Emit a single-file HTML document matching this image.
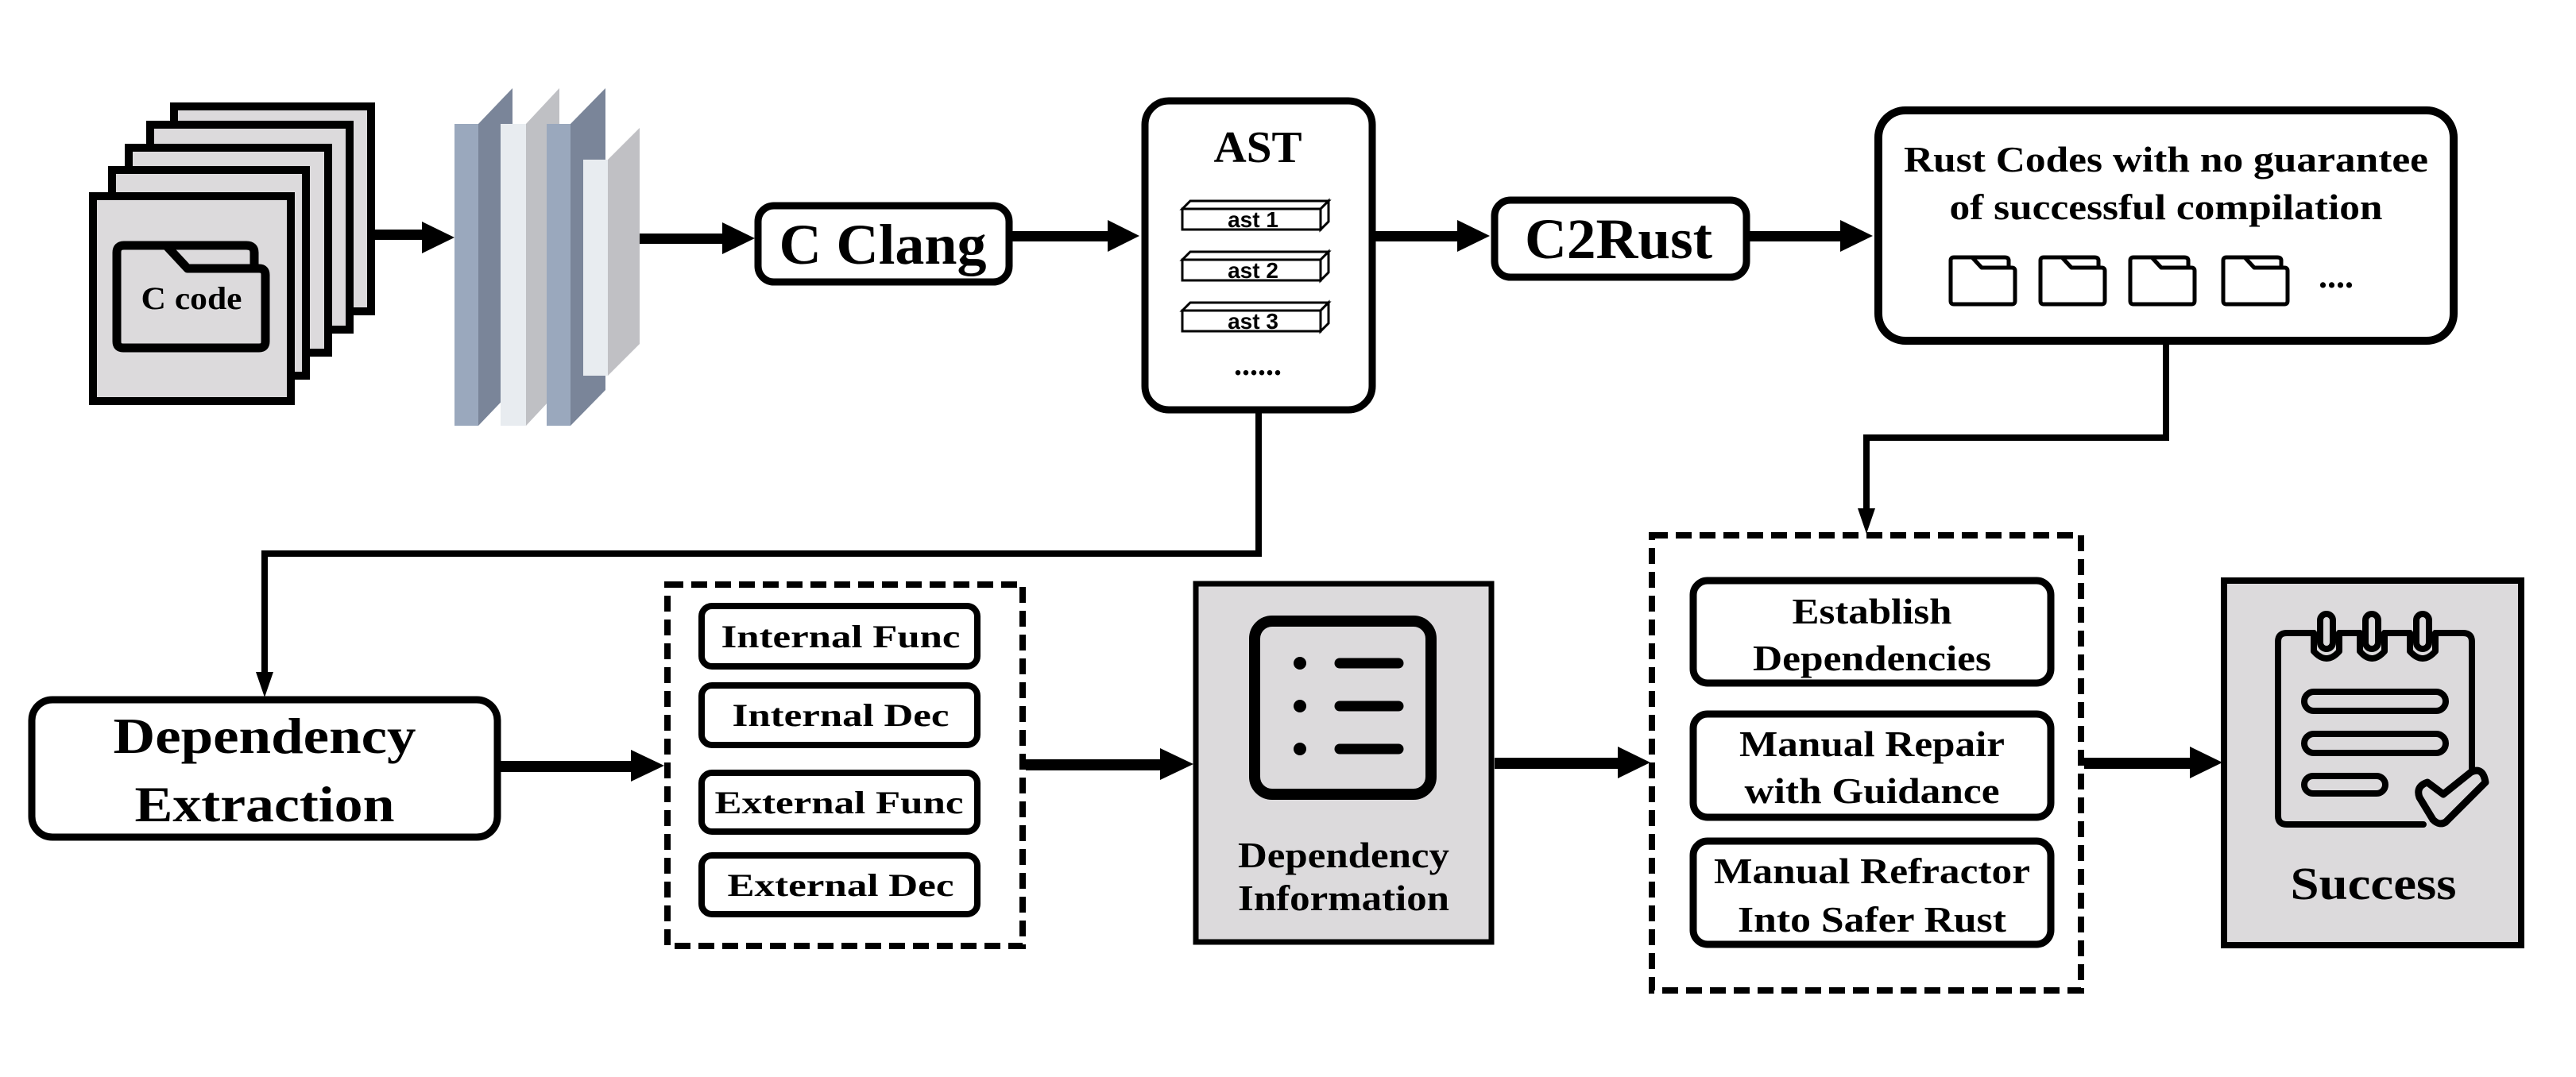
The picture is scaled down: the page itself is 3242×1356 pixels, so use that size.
<!DOCTYPE html>
<html><head><meta charset="utf-8"><style>
html,body{margin:0;padding:0;background:#fff}
svg{display:block}
text{font-family:"Liberation Serif",serif;font-weight:bold;fill:#000}
</style></head><body>
<svg width="3242" height="1356" viewBox="0 0 3242 1356" xmlns="http://www.w3.org/2000/svg">
<defs>
<path id="fold" d="M3,5 Q3,1 7,1 H30 L42,14 H80 Q84,14 84,18 V56 Q84,60 80,60 H7 Q3,60 3,56 Z M30,1 H71 Q76,1 76,5 V14"/>
</defs>
<rect width="3242" height="1356" fill="#fff"/>

<!-- C code stack -->
<g fill="#dcdadc" stroke="#000" stroke-width="10">
<rect x="219" y="134" width="248" height="258"/>
<rect x="189" y="157" width="251" height="258"/>
<rect x="162" y="186" width="251" height="258"/>
<rect x="141" y="214" width="244" height="259"/>
<rect x="117" y="247" width="249" height="258"/>
</g>
<g fill="none" stroke="#000" stroke-width="11" stroke-linejoin="round">
<path d="M147,318 Q147,309 156,309 H209 L236,338 H326 Q334,338 334,346 V430 Q334,438 326,438 H155 Q147,438 147,430 Z"/>
<path d="M209,309 H310 Q320,309 320,318 V338"/>
</g>
<text x="241" y="389" font-size="40" text-anchor="middle" textLength="127" lengthAdjust="spacingAndGlyphs">C code</text>

<!-- arrows top row -->
<g fill="#000">
<rect x="472" y="289" width="62" height="13"/><polygon points="531,279 572,299 531,319"/>
<rect x="805" y="294" width="108" height="13"/><polygon points="909,280 950,300 909,320"/>
<rect x="1274" y="291" width="124" height="13"/><polygon points="1394,277 1434,297 1394,317"/>
<rect x="1731" y="291" width="106" height="13"/><polygon points="1834,277 1875,297 1834,317"/>
<rect x="2202" y="291" width="118" height="13"/><polygon points="2316,277 2357,297 2316,317"/>
</g>

<!-- slabs -->
<rect x="572" y="156" width="30" height="380" fill="#9aa8bd"/>
<polygon points="602,156 645,111 645,491 602,536" fill="#7a8599"/>
<rect x="630" y="156" width="32" height="380" fill="#e8ecf0"/>
<polygon points="662,156 704,111 704,491 662,536" fill="#bfc0c4"/>
<rect x="688" y="156" width="30" height="380" fill="#9aa8bd"/>
<polygon points="718,156 762,111 762,491 718,536" fill="#7a8599"/>
<rect x="734" y="201" width="31" height="272" fill="#e8ecf0"/>
<polygon points="765,201 805,161 805,433 765,473" fill="#c0c0c4"/>

<!-- C Clang -->
<rect x="954" y="259" width="316" height="96" rx="20" fill="#fff" stroke="#000" stroke-width="9"/>
<text x="1111" y="332" font-size="72" text-anchor="middle" textLength="261" lengthAdjust="spacingAndGlyphs">C Clang</text>

<!-- AST -->
<rect x="1441" y="127" width="286" height="389" rx="30" fill="#fff" stroke="#000" stroke-width="9"/>
<text x="1583" y="204" font-size="56" text-anchor="middle" textLength="111" lengthAdjust="spacingAndGlyphs">AST</text>
<g fill="#fff" stroke="#000" stroke-width="3">
<polygon points="1488,263 1498,253 1672,253 1662,263"/><polygon points="1662,263 1672,253 1672,279 1662,289"/><rect x="1488" y="263" width="174" height="26"/>
<polygon points="1488,327 1498,317 1672,317 1662,327"/><polygon points="1662,327 1672,317 1672,343 1662,353"/><rect x="1488" y="327" width="174" height="26"/>
<polygon points="1488,391 1498,381 1672,381 1662,391"/><polygon points="1662,391 1672,381 1672,407 1662,417"/><rect x="1488" y="391" width="174" height="26"/>
</g>
<g font-size="28" text-anchor="middle">
<text x="1577" y="286" style="font-family:'Liberation Sans',sans-serif">ast 1</text>
<text x="1577" y="350" style="font-family:'Liberation Sans',sans-serif">ast 2</text>
<text x="1577" y="414" style="font-family:'Liberation Sans',sans-serif">ast 3</text>
</g>
<text x="1583" y="472" font-size="40" text-anchor="middle">......</text>

<!-- C2Rust -->
<rect x="1881" y="252" width="317" height="97" rx="20" fill="#fff" stroke="#000" stroke-width="9"/>
<text x="2037" y="325" font-size="72" text-anchor="middle" textLength="236" lengthAdjust="spacingAndGlyphs">C2Rust</text>

<!-- Rust codes -->
<rect x="2364" y="139" width="724" height="290" rx="34" fill="#fff" stroke="#000" stroke-width="10"/>
<text x="2726" y="216" font-size="45" text-anchor="middle" textLength="660" lengthAdjust="spacingAndGlyphs">Rust Codes with no guarantee</text>
<text x="2726" y="276" font-size="45" text-anchor="middle" textLength="545" lengthAdjust="spacingAndGlyphs">of successful compilation</text>
<g fill="#fff" stroke="#000" stroke-width="5" stroke-linejoin="round">
<use href="#fold" x="2452" y="323"/>
<use href="#fold" x="2565" y="323"/>
<use href="#fold" x="2678" y="323"/>
<use href="#fold" x="2795" y="323"/>
</g>
<text x="2940" y="362" font-size="44" text-anchor="middle">....</text>

<!-- connectors -->
<g fill="none" stroke="#000" stroke-width="8">
<path d="M2726,433 V551 H2349 V650"/>
<path d="M1584,520 V697 H333 V855"/>
</g>
<polygon points="2338,640 2360,640 2349,672" fill="#000"/>
<polygon points="322,846 344,846 333,878" fill="#000"/>

<!-- Dependency Extraction -->
<rect x="40" y="881" width="586" height="173" rx="26" fill="#fff" stroke="#000" stroke-width="9"/>
<text x="333" y="948" font-size="64" text-anchor="middle" textLength="381" lengthAdjust="spacingAndGlyphs">Dependency</text>
<text x="333" y="1034" font-size="64" text-anchor="middle" textLength="327" lengthAdjust="spacingAndGlyphs">Extraction</text>

<g fill="#000">
<rect x="626" y="958" width="172" height="14"/><polygon points="794,944 836,964 794,984"/>
<rect x="1291" y="956" width="172" height="14"/><polygon points="1460,942 1502,962 1460,982"/>
<rect x="1881" y="954" width="158" height="14"/><polygon points="2036,940 2077,960 2036,980"/>
<rect x="2623" y="954" width="136" height="14"/><polygon points="2756,940 2797,960 2756,980"/>
</g>

<!-- dashed box 1 -->
<rect x="840" y="736" width="447" height="455" fill="none" stroke="#000" stroke-width="8" stroke-dasharray="20,10"/>
<g fill="#fff" stroke="#000" stroke-width="8">
<rect x="883" y="763" width="347" height="76" rx="13"/>
<rect x="883" y="863" width="347" height="75" rx="13"/>
<rect x="883" y="973" width="347" height="74" rx="13"/>
<rect x="883" y="1077" width="347" height="74" rx="13"/>
</g>
<g font-size="40" text-anchor="middle">
<text x="1058" y="815" textLength="301" lengthAdjust="spacingAndGlyphs">Internal Func</text>
<text x="1058" y="914" textLength="273" lengthAdjust="spacingAndGlyphs">Internal Dec</text>
<text x="1056" y="1024" textLength="313" lengthAdjust="spacingAndGlyphs">External Func</text>
<text x="1058" y="1128" textLength="285" lengthAdjust="spacingAndGlyphs">External Dec</text>
</g>

<!-- Dependency Information -->
<rect x="1505" y="735" width="372" height="451" fill="#dcdadc" stroke="#000" stroke-width="7"/>
<rect x="1579" y="782" width="222" height="218" rx="22" fill="none" stroke="#000" stroke-width="14"/>
<g fill="#000">
<circle cx="1636" cy="835" r="8"/><circle cx="1636" cy="889" r="8"/><circle cx="1636" cy="943" r="8"/>
</g>
<g stroke="#000" stroke-width="13" stroke-linecap="round">
<line x1="1686" y1="835" x2="1760" y2="835"/><line x1="1686" y1="889" x2="1760" y2="889"/><line x1="1686" y1="943" x2="1760" y2="943"/>
</g>
<text x="1691" y="1092" font-size="46" text-anchor="middle" textLength="266" lengthAdjust="spacingAndGlyphs">Dependency</text>
<text x="1691" y="1146" font-size="46" text-anchor="middle" textLength="266" lengthAdjust="spacingAndGlyphs">Information</text>

<!-- dashed box 2 -->
<rect x="2079" y="674" width="540" height="573" fill="none" stroke="#000" stroke-width="8" stroke-dasharray="20,10"/>
<g fill="#fff" stroke="#000" stroke-width="9">
<rect x="2131" y="731" width="450" height="129" rx="18"/>
<rect x="2131" y="899" width="450" height="130" rx="18"/>
<rect x="2131" y="1059" width="450" height="130" rx="18"/>
</g>
<g font-size="46" text-anchor="middle">
<text x="2356" y="785" textLength="201" lengthAdjust="spacingAndGlyphs">Establish</text>
<text x="2356" y="844" textLength="300" lengthAdjust="spacingAndGlyphs">Dependencies</text>
<text x="2356" y="952" textLength="334" lengthAdjust="spacingAndGlyphs">Manual Repair</text>
<text x="2356" y="1011" textLength="321" lengthAdjust="spacingAndGlyphs">with Guidance</text>
<text x="2356" y="1112" textLength="398" lengthAdjust="spacingAndGlyphs">Manual Refractor</text>
<text x="2356" y="1173" textLength="338" lengthAdjust="spacingAndGlyphs">Into Safer Rust</text>
</g>

<!-- Success -->
<rect x="2799" y="731" width="374" height="459" fill="#dcdadc" stroke="#000" stroke-width="8"/>
<g fill="none" stroke="#000" stroke-width="8" stroke-linejoin="round" stroke-linecap="round">
<path d="M3050,1038 H2878 Q2867,1038 2867,1027 V808 Q2867,797 2878,797 H2912 M2944,797 H2970 M3001,797 H3033 M3065,797 H3100 Q3111,797 3111,808 V970"/>
<path d="M2912,797 V820 Q2928,838 2944,820 V797 M3001,797 V820 Q2985,838 2970,820 V797 M3065,797 V820 Q3049,838 3033,820 V797"/>
<rect x="2920" y="773" width="16" height="44" rx="8"/>
<rect x="2977" y="773" width="16" height="44" rx="8"/>
<rect x="3041" y="773" width="16" height="44" rx="8"/>
<rect x="2900" y="871" width="178" height="24" rx="12"/>
<rect x="2900" y="924" width="178" height="24" rx="12"/>
<rect x="2900" y="977" width="102" height="22" rx="11"/>
<path d="M3045,1004 Q3040,990 3055,985 L3075,1000 L3110,972 Q3125,965 3128,985 L3078,1035 Q3070,1040 3062,1032 Z" stroke-width="9"/>
</g>
<text x="2987" y="1132" font-size="58" text-anchor="middle" textLength="209" lengthAdjust="spacingAndGlyphs">Success</text>
</svg>
</body></html>
